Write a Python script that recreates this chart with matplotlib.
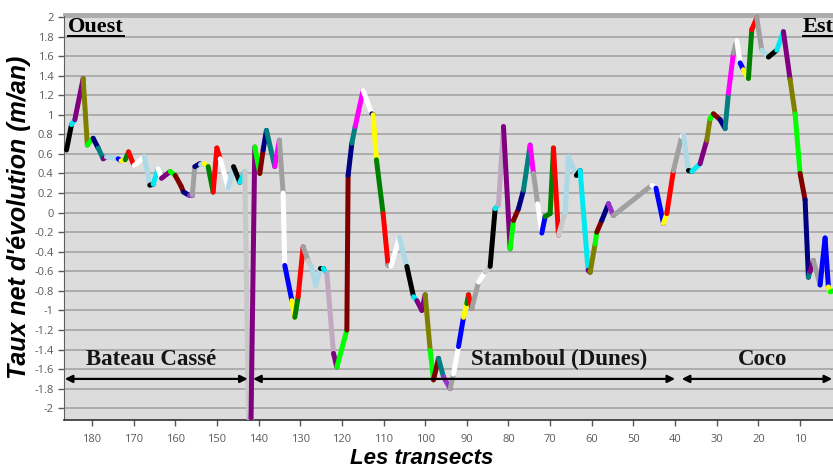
import numpy as np
import matplotlib
matplotlib.use("Agg")
import matplotlib.pyplot as plt
from matplotlib.lines import Line2D

# ---------------------------------------------------------------------------
# Data: net shoreline change rate per transect
# ---------------------------------------------------------------------------
transect = [186.1, 184.9, 184.1, 182.1, 181.1, 179.7, 178.5, 177.3, 176.5, 173.7,
            173.0, 172.0, 171.2, 169.9, 167.4, 166.1, 165.3, 164.1, 163.3, 161.2,
            160.0, 158.6, 158.0, 156.8, 155.9, 155.3, 154.1, 153.0, 152.1, 150.9,
            150.0, 149.2, 147.3, 146.0, 144.5, 143.3, 142.4, 141.8, 140.9, 139.7,
            138.9, 138.1, 136.1, 135.0, 134.1, 133.7, 132.0, 131.3, 130.5, 129.3,
            128.1, 127.3, 126.3, 125.2, 124.5, 123.6, 122.0, 121.2, 118.8, 118.5,
            117.6, 116.8, 114.9, 112.8, 112.5, 111.7, 110.1, 108.9, 108.2, 106.2,
            104.4, 102.8, 102.0, 100.8, 100.0, 98.8, 98.0, 96.8, 95.6, 94.0,
            93.2, 92.0, 90.8, 90.0, 89.6, 88.8, 87.2, 85.6, 84.4, 83.2,
            82.4, 81.2, 79.6, 78.8, 77.6, 76.4, 74.8, 74.0, 73.0, 72.0,
            71.2, 70.0, 69.2, 68.0, 66.4, 65.6, 63.7, 62.8, 60.9, 60.4,
            59.2, 58.8, 57.6, 56.0, 54.8, 45.6, 44.6, 42.8, 42.0, 40.4,
            38.4, 38.0, 36.8, 36.0, 34.0, 32.4, 31.6, 30.8, 29.2, 28.0,
            27.2, 26.0, 25.2, 24.4, 23.6, 22.4, 21.6, 20.4, 19.2, 17.6,
            15.6, 14.0, 12.4, 11.2, 10.0, 8.8, 8.0, 7.6, 6.8, 5.2,
            4.0, 3.2, 2.8, 2.0]
taux = [0.64, 0.90, 0.95, 1.37, 0.69, 0.76, 0.66, 0.55, 0.57, 0.55,
        0.53, 0.54, 0.62, 0.48, 0.57, 0.28, 0.29, 0.45, 0.35, 0.42,
        0.38, 0.27, 0.21, 0.18, 0.18, 0.47, 0.50, 0.50, 0.47, 0.21,
        0.66, 0.55, 0.25, 0.47, 0.31, 0.42, -2.10, -2.10, 0.67, 0.40,
        0.64, 0.84, 0.47, 0.74, 0.20, -0.54, -0.90, -1.07, -0.86, -0.35,
        -0.49, -0.55, -0.75, -0.57, -0.57, -0.62, -1.44, -1.58, -1.20, 0.38,
        0.71, 0.88, 1.25, 1.01, 1.00, 0.54, -0.01, -0.54, -0.55, -0.25,
        -0.55, -0.86, -0.90, -1.00, -0.84, -1.41, -1.71, -1.49, -1.68, -1.80,
        -1.65, -1.37, -1.07, -0.93, -0.84, -0.98, -0.71, -0.61, -0.55, 0.04,
        0.08, 0.88, -0.37, -0.08, 0.04, 0.23, 0.69, 0.40, 0.09, -0.21,
        -0.04, -0.01, 0.66, -0.23, 0.00, 0.57, 0.38, 0.43, -0.59, -0.61,
        -0.32, -0.20, -0.08, 0.09, -0.03, 0.28, 0.25, -0.11, -0.01, 0.43,
        0.78, 0.79, 0.43, 0.42, 0.50, 0.74, 0.96, 1.01, 0.95, 0.86,
        1.22, 1.63, 1.76, 1.53, 1.46, 1.37, 1.87, 1.99, 1.66, 1.59,
        1.66, 1.85, 1.36, 1.01, 0.40, 0.13, -0.66, -0.60, -0.49, -0.74,
        -0.26, -0.76, -0.81, -0.80]

# colour of each segment (one per pair of consecutive points)
seg_names = ["k", "cy", "pu", "ol", "li", "na", "te", "pu", "lb", "bl",
             "ye", "dg", "re", "wh", "lb", "k", "cy", "wh", "pu", "li",
             "dr", "dr", "na", "or", "gr", "na", "lb", "ye", "dg", "re",
             "re", "wh", "lb", "k", "cy", "lg", "la", "pu", "li", "dr",
             "na", "te", "ma", "gr", "wh", "bl", "ye", "dg", "re", "gr",
             "lg", "lb", "lb", "k", "cy", "la", "pu", "li", "dr", "na",
             "te", "ma", "wh", "na", "ye", "dg", "re", "gr", "wh", "lb",
             "k", "cy", "pu", "pu", "ol", "li", "dr", "te", "or", "gr",
             "wh", "bl", "ye", "dg", "re", "gr", "wh", "lg", "k", "cy",
             "la", "pu", "li", "dr", "na", "te", "ma", "gr", "wh", "bl",
             "dg", "dg", "re", "lg", "lb", "lb", "k", "cy", "pu", "ol",
             "li", "dr", "na", "or", "gr", "wh", "bl", "ye", "re", "gr",
             "wh", "lb", "k", "cy", "pu", "ol", "li", "dr", "na", "te",
             "ma", "gr", "wh", "bl", "ye", "dg", "re", "gr", "lb", "k",
             "cy", "pu", "ol", "li", "dr", "na", "te", "pu", "gr", "bl",
             "bl", "ye", "li"]

palette = {"k": "#000000", "cy": "#00e8f0", "pu": "#800080", "ol": "#808000",
           "li": "#00ff00", "na": "#000080", "te": "#008080", "lb": "#add8e6",
           "bl": "#0000ff", "ye": "#ffff00", "dg": "#008000", "re": "#ff0000",
           "wh": "#ffffff", "dr": "#800000", "or": "#9932cc", "gr": "#a0a0a0",
           "lg": "#c8c8c8", "la": "#c0a8c0", "ma": "#ff00ff"}

# sections along the coast
sections = ["Bateau Cassé", "Stamboul (Dunes)", "Coco"]
section_start = [186.5, 141.3, 38.4]
section_end = [142.6, 40.0, 2.3]
section_label_x = [165.8, 67.8, 19.0]

# ---------------------------------------------------------------------------
# Plot
# ---------------------------------------------------------------------------
fig = plt.figure(figsize=(8.33, 4.72), dpi=100)
ax = fig.add_axes([64 / 833, 52 / 472, 1 - 64 / 833, 406 / 472])
ax.set_facecolor("#dcdcdc")

ax.set_xlim(186.7, 2.1)
ax.set_ylim(-2.12, 2.03)

yticks = np.round(np.arange(-2, 2.01, 0.2), 1) + 0.0
ax.set_yticks(yticks)
ax.set_yticklabels([f"{v:g}" if abs(v) > 1e-9 else "0" for v in yticks])
ax.set_xticks(np.arange(180, 9, -10))
ax.tick_params(axis="both", labelsize=8, colors="#5a5a5a", length=4, width=1)
ax.tick_params(axis="x", pad=6)
for lab in ax.get_xticklabels() + ax.get_yticklabels():
    lab.set_family("Open Sans")
ax.grid(axis="y", color="#a8a8a8", linewidth=1.3)
ax.set_axisbelow(True)

ax.spines["right"].set_visible(False)
ax.spines["top"].set_color("#a8a8a8")
ax.spines["top"].set_linewidth(2)
ax.spines["left"].set_color("#606060")
ax.spines["bottom"].set_color("#303030")
ax.spines["bottom"].set_linewidth(1.2)

for i in range(len(transect) - 1):
    ax.plot(transect[i:i + 2], taux[i:i + 2], color=palette[seg_names[i]],
            linewidth=3.6, solid_capstyle="round", zorder=3)

for name, x0, x1, xl in zip(sections, section_start, section_end, section_label_x):
    ax.annotate("", xy=(x1, -1.70), xytext=(x0, -1.70),
                arrowprops=dict(arrowstyle="<|-|>", color="black", lw=1.6,
                                mutation_scale=11, shrinkA=0, shrinkB=0),
                zorder=4)
    ax.text(xl, -1.50, name, ha="center", va="center", fontsize=16.5,
            fontweight="bold", family="Liberation Serif", color="#151515", zorder=5)

t_ouest = ax.text(185.7, 2.0, "Ouest", ha="left", va="top", fontsize=16,
                  fontweight="bold", family="Liberation Serif", zorder=5)
t_est = ax.text(9.3, 2.0, "Est", ha="left", va="top", fontsize=16,
                fontweight="bold", family="Liberation Serif", zorder=5)

ax.set_ylabel("Taux net d'évolution (m/an)", fontsize=18, fontweight="bold",
              style="italic", family="Liberation Sans", labelpad=2)
ax.set_xlabel("Les transects", fontsize=16, fontweight="bold",
              style="italic", family="Liberation Sans", labelpad=2,
              x=(422 - 64) / 769)

# underline the orientation labels
fig.canvas.draw()
r = fig.canvas.get_renderer()
W, H = fig.bbox.width, fig.bbox.height
for t in [t_ouest, t_est]:
    bb = t.get_window_extent(renderer=r)
    yl = (bb.y0 + 1) / H
    fig.add_artist(Line2D([bb.x0 / W, bb.x1 / W], [yl, yl],
                          color="black", linewidth=1.4))

fig.savefig("out.png", dpi=100)
plt.close(fig)
